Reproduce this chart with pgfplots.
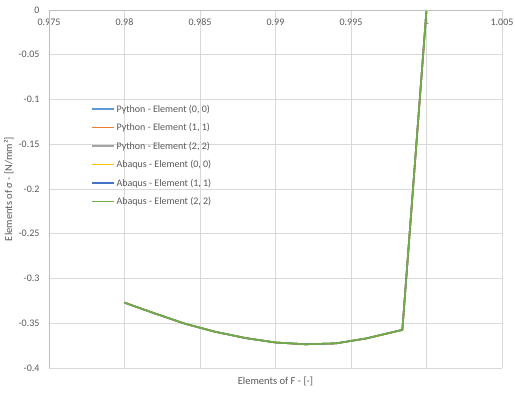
\documentclass[border=0pt]{standalone}
\usepackage{pgfplots}
\pgfplotsset{compat=1.18}
\usepackage{fontspec}
\setmainfont{Carlito}

\definecolor{txtgray}{HTML}{595959}
\definecolor{gridgray}{HTML}{D9D9D9}
\definecolor{axgray}{HTML}{BFBFBF}
\definecolor{xlblue}{HTML}{5B9BD5}
\definecolor{xlorange}{HTML}{ED7D31}
\definecolor{xlgray}{HTML}{A5A5A5}
\definecolor{xlyellow}{HTML}{FFC000}
\definecolor{xldblue}{HTML}{4472C4}
\definecolor{xlgreen}{HTML}{70AD47}

% stress component vs. deformation gradient component
\pgfplotstableread{
F        S
0.9800  -0.3270
0.9820  -0.3390
0.9840  -0.3505
0.9860  -0.3595
0.9880  -0.3665
0.9900  -0.3715
0.9920  -0.3735
0.9940  -0.3725
0.9960  -0.3670
0.9980  -0.3590
0.9984  -0.3575
1.0000   0.0000
}\datatbl

\newcommand{\legtxt}[1]{\textcolor{txtgray}{#1}}

\begin{document}
\begin{tikzpicture}[x=1pt,y=1pt]
\useasboundingbox (-49,-24) rectangle (466,368);
\begin{axis}[
  at={(0,0)}, anchor=south west,
  scale only axis, width=453pt, height=358pt,
  xmin=0.975, xmax=1.005, ymin=-0.4, ymax=0,
  xtick={0.975,0.98,0.985,0.99,0.995,1,1.005},
  xticklabels={0.975,0.98,0.985,0.99,0.995,1,1.005},
  ytick={-0.4,-0.35,-0.3,-0.25,-0.2,-0.15,-0.1,-0.05,0},
  yticklabels={-0.4,-0.35,-0.3,-0.25,-0.2,-0.15,-0.1,-0.05,0},
  xticklabel pos=upper,
  x tick label style={anchor=north, yshift=-5pt, font=\fontsize{10}{12}\selectfont, text=txtgray},
  y tick label style={font=\fontsize{10}{12}\selectfont, text=txtgray, xshift=-6pt},
  major tick length=0pt,
  grid=major,
  major grid style={gridgray, line width=0.8pt},
  axis line style={draw=none},
  xlabel={Elements of F - [-]},
  ylabel={Elements of σ - [N/mm²]},
  label style={font=\fontsize{10.5}{12}\selectfont, text=txtgray},
  xlabel style={at={(axis description cs:0.5,0)}, anchor=north, yshift=-5pt},
  ylabel style={at={(axis description cs:0,0.5)}, anchor=south, yshift=32pt},
  legend style={at={(axis cs:0.9778,-0.1039)}, anchor=north west, draw=none, fill=none,
    font=\fontsize{10}{12}\selectfont, row sep=6.7pt,
    inner sep=0pt, nodes={inner sep=1.5pt}},
  legend cell align=left,
  legend image code/.code={\draw[#1, line width=1.6pt] (0pt,0pt) -- (22pt,0pt);},
  every axis plot/.append style={line width=1.6pt},
  clip=false,
]
\addplot[xlblue]   table[x=F,y=S] {\datatbl};
\addlegendentry{\legtxt{Python - Element (0, 0)}}
\addplot[xlorange] table[x=F,y=S] {\datatbl};
\addlegendentry{\legtxt{Python - Element (1, 1)}}
\addplot[xlgray]   table[x=F,y=S] {\datatbl};
\addlegendentry{\legtxt{Python - Element (2, 2)}}
\addplot[xlyellow] table[x=F,y=S] {\datatbl};
\addlegendentry{\legtxt{Abaqus - Element (0, 0)}}
\addplot[xldblue]  table[x=F,y=S] {\datatbl};
\addlegendentry{\legtxt{Abaqus - Element (1, 1)}}
\addplot[xlgreen]  table[x=F,y=S] {\datatbl};
\addlegendentry{\legtxt{Abaqus - Element (2, 2)}}
% axis lines crossing at the origin of the value scale
\draw[axgray, line width=0.8pt] (rel axis cs:0,0) -- (rel axis cs:0,1) -- (rel axis cs:1,1);
\end{axis}
\end{tikzpicture}
\end{document}
